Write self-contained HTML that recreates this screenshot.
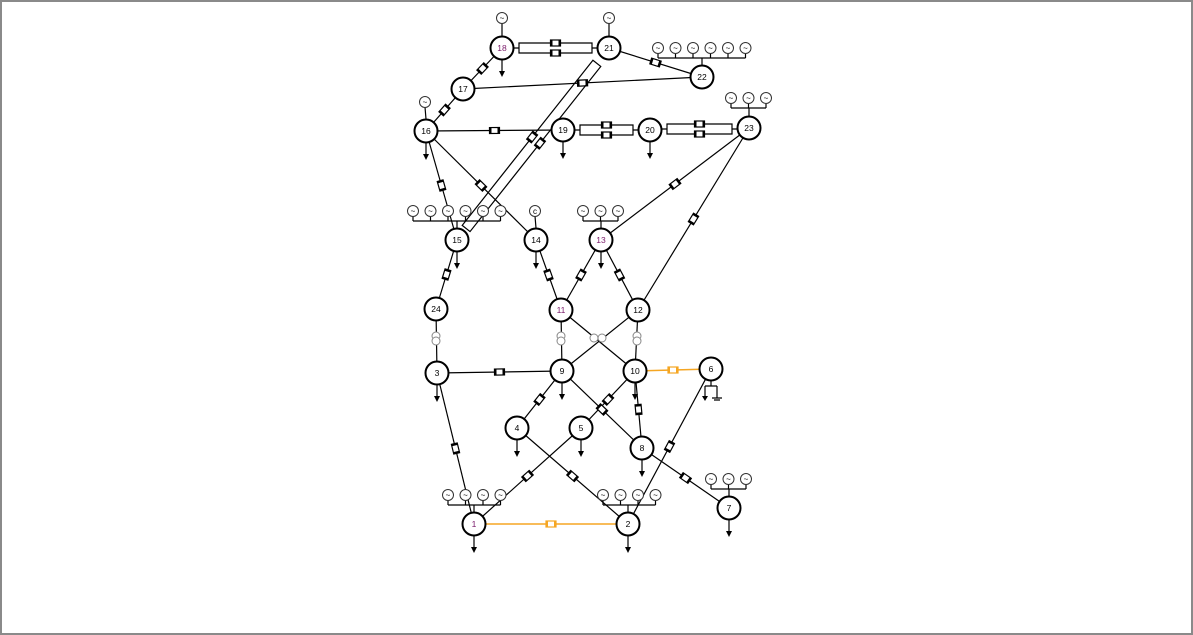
<!DOCTYPE html>
<html><head><meta charset="utf-8"><style>
html,body{margin:0;padding:0;background:#fff}
#frame{position:absolute;left:0;top:0;width:1189px;height:631px;border:2px solid #8a8a8a;background:#fff}
svg{position:absolute;left:0;top:0}
text{font-family:"Liberation Sans",sans-serif}
</style></head><body>
<div id="frame"></div>
<svg id="g" width="1193" height="635"></svg>
<script>
const busIds=["1","2","3","4","5","6","7","8","9","10","11","12","13","14","15","16","17","18","19","20","21","22","23","24"];
const busX=[474,628,437,517,581,711,729,642,562,635,561,638,601,536,457,426,463,502,563,650,609,702,749,436];
const busY=[524,524,373,428,428,369,508,448,371,371,310,310,240,240,240,131,89,48,130,130,48,77,128,309];
const purpleBuses=["1","11","13","18"];
const lineFrom=["18","17","17","21","16","16","16","23","23","13","13","15","14","3","9","10","10","3","5","4","6","8","9"];
const lineTo  =["17","16","22","22","19","15","14","13","12","11","12","24","11","9","4","5","8","1","1","2","2","7","8"];
const doubleFrom=["18","19","20"], doubleTo=["21","20","23"];
const orangeFrom=["10","1"], orangeTo=["6","2"];
const xfFrom=["24","11","12","11","12"], xfTo=["3","9","10","10","9"];
const loadBuses=["16","19","20","15","14","13","3","9","10","4","5","8","1","2","7","18"];
const genBus=["18","21","22","16","23","15","14","13","1","2","7"];
const genCount=[1,1,6,1,3,6,1,3,4,4,3];
const genX0=[502,609,658,425,731,413,535,583,448,603,711];
const genY=[18,18,48,102,98,211,211,211,495,495,479];
const svg=document.getElementById('g');const NS="http://www.w3.org/2000/svg";
function P(id){const i=busIds.indexOf(id);return [busX[i],busY[i]];}
function mk(t,a,p){const e=document.createElementNS(NS,t);for(const k in a)e.setAttribute(k,a[k]);(p||svg).appendChild(e);return e;}
function breaker(x,y,ang,col,name){
 const g=mk('g',{transform:`translate(${x},${y}) rotate(${ang})`});
 
 
 mk('rect',{x:-5,y:-3,width:10,height:6,fill:'#fff',stroke:col,'stroke-width':1.2},g);
 mk('rect',{x:-5,y:-3,width:2,height:6,fill:col},g);mk('rect',{x:3,y:-3,width:2,height:6,fill:col},g);}
function seg(a,b,col,t,name){const[x1,y1]=P(a),[x2,y2]=P(b);
 const l=mk('line',{x1,y1,x2,y2,stroke:col,'stroke-width':t||1.2});
 
 
 return [x1,y1,x2,y2];}
lineFrom.forEach((a,i)=>{const b=lineTo[i];const[x1,y1,x2,y2]=seg(a,b,'#000',1.2,'line-'+a+'-'+b);
 breaker((x1+x2)/2,(y1+y2)/2,Math.atan2(y2-y1,x2-x1)*180/Math.PI,'#000','breaker-'+a+'-'+b);});
// 21-15 double diagonal
(function(){const[x1,y1]=P("21"),[x2,y2]=P("15");const d=Math.hypot(x2-x1,y2-y1),nx=-(y2-y1)/d*5,ny=(x2-x1)/d*5;
 const ax=x1+(x2-x1)*0.08,ay=y1+(y2-y1)*0.08,bx=x2-(x2-x1)*0.06,by=y2-(y2-y1)*0.06;
 const p=mk('path',{d:`M${ax+nx},${ay+ny}L${bx+nx},${by+ny}L${bx-nx},${by-ny}L${ax-nx},${ay-ny}Z`,fill:'none',stroke:'#000','stroke-width':1.2});
 
 
 const ang=Math.atan2(y2-y1,x2-x1)*180/Math.PI,mx=x1+(x2-x1)*0.48,my=y1+(y2-y1)*0.48;
 breaker(mx+nx,my+ny,ang,'#000','breaker-21-15-a');breaker(mx-nx,my-ny,ang,'#000','breaker-21-15-b');})();
doubleFrom.forEach((a,i)=>{const b=doubleTo[i];const[x1,y1]=P(a),[x2,y2]=P(b);const xa=x1+17,xb=x2-17,y=(y1+y2)/2;
 const g=mk('g',{});
 
 
 mk('path',{d:`M${x1+12},${y}H${xa}M${xa},${y-5}H${xb}V${y+5}H${xa}ZM${xb},${y}H${x2-12}`,fill:'none',stroke:'#000','stroke-width':1.2},g);
 breaker((xa+xb)/2,y-5,0,'#000','breaker-'+a+'-'+b+'-a');breaker((xa+xb)/2,y+5,0,'#000','breaker-'+a+'-'+b+'-b');});
orangeFrom.forEach((a,i)=>{const b=orangeTo[i];const[x1,y1,x2,y2]=seg(a,b,'#f5a623',1.4,'line-'+a+'-'+b);
 breaker((x1+x2)/2,(y1+y2)/2,0,'#f5a623','breaker-'+a+'-'+b);});
xfFrom.forEach((a,i)=>{const b=xfTo[i];const[x1,y1]=P(a),[x2,y2]=P(b);
 const l=mk('line',{x1,y1,x2,y2,stroke:'#000','stroke-width':1.2});
 
 });
[[436,338],[561,338],[637,338],[594,338],[602,338]].forEach((p,i)=>{
 const g=mk('g',{});
 
 
 if(i<3){mk('circle',{cx:p[0],cy:p[1]-2,r:4,fill:'#fff',stroke:'#888'},g);mk('circle',{cx:p[0],cy:p[1]+3,r:4,fill:'#fff',stroke:'#888'},g);}
 else mk('circle',{cx:p[0],cy:p[1],r:4,fill:'#fff',stroke:'#888'},g);});
loadBuses.forEach(id=>{const[x,y]=P(id);const g=mk('g',{});
 
 
 mk('line',{x1:x,y1:y+12,x2:x,y2:y+26,stroke:'#000','stroke-width':1.2},g);
 mk('path',{d:`M${x-3},${y+23}L${x+3},${y+23}L${x},${y+29}Z`,fill:'#000'},g);});
// bus 6 load + ground
(function(){const g=mk('g',{});
 mk('path',{d:'M711,381V386M705,386H717M705,386V398M717,386V398M712,398H722M714,400H720',stroke:'#000',fill:'none','stroke-width':1.2},g);
 mk('path',{d:'M702,396L708,396L705,401Z',fill:'#000'},g);})();
genBus.forEach((id,i)=>{const[bx,by]=P(id);const n=genCount[i],y=genY[i];const g=mk('g',{});
 
 
 const sp=17.5;const xs=[];for(let k=0;k<n;k++)xs.push(genX0[i]+k*sp);
 if(n>1){const by2=y+10;mk('path',{d:`M${xs[0]},${by2}H${xs[n-1]}`+xs.map(x=>`M${x},${y+5}V${by2}`).join('')+`M${bx},${by2}V${by-12}`,stroke:'#000',fill:'none','stroke-width':1.2},g);}
 else mk('line',{x1:xs[0],y1:y+5,x2:bx,y2:by-12,stroke:'#000','stroke-width':1.2},g);
 xs.forEach(x=>{mk('circle',{cx:x,cy:y,r:5.5,fill:'#fff',stroke:'#333'},g);
  const t=mk('text',{x:x,y:y+3,'font-size':8,'text-anchor':'middle'},g);t.textContent=id==="14"?"c":"~";});});
busIds.forEach((id,i)=>{const g=mk('g',{});
 
 
 mk('circle',{cx:busX[i],cy:busY[i],r:11.5,fill:'#fff',stroke:'#000','stroke-width':2},g);
 const t=mk('text',{x:busX[i],y:busY[i]+3,'font-size':8.5,'text-anchor':'middle',fill:purpleBuses.includes(id)?'#7a1a6a':'#000'},g);t.textContent=id;});
</script></body></html>
